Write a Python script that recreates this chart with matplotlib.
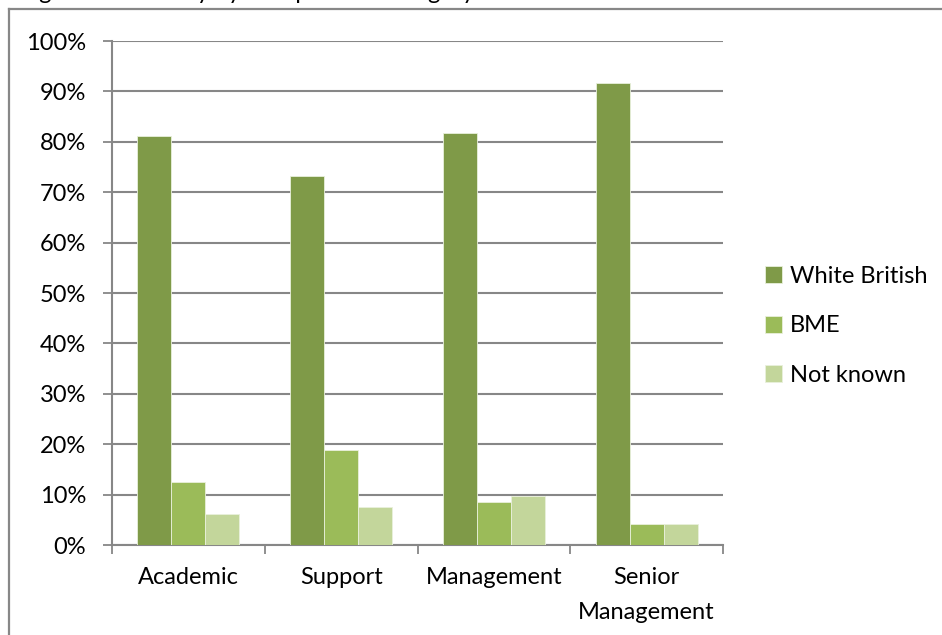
import matplotlib
matplotlib.use("Agg")
import matplotlib.pyplot as plt
from matplotlib.lines import Line2D
from matplotlib.ticker import FixedLocator, PercentFormatter, NullFormatter
import numpy as np

# Staff ethnicity share by job category
categories = ["Academic", "Support", "Management", "Senior\nManagement"]
series_names = ["White British", "BME", "Not known"]
white_british = [81.2, 73.2, 81.7, 91.7]
bme = [12.5, 18.9, 8.5, 4.1]
not_known = [6.2, 7.6, 9.7, 4.1]
y_ticks = [0, 10, 20, 30, 40, 50, 60, 70, 80, 90, 100]

colors = ["#7f9a48", "#9bbb59", "#c3d69b"]
grid_col = "#878787"

plt.rcParams["font.family"] = ["Lato", "DejaVu Sans"]
W, H = 942, 635
fig = plt.figure(figsize=(W / 100, H / 100), dpi=100)

def fx(px):
    return px / W

def fy(py):
    return 1 - py / H

# outer chart frame (runs off the right and bottom edges)
fig.add_artist(Line2D([fx(9), 1.0], [fy(9), fy(9)], color=grid_col, lw=1.6,
                      transform=fig.transFigure))
fig.add_artist(Line2D([fx(9), fx(9)], [fy(9), 0.0], color=grid_col, lw=1.6,
                      transform=fig.transFigure))

# caption sitting above the frame
fig.text(fx(20), fy(-1), "Figure 4: Ethnicity by occupational category",
         fontsize=17, ha="left", va="baseline")

left, right, top, bottom = 112, 723, 41, 545
ax = fig.add_axes([fx(left), fy(bottom), fx(right - left), (bottom - top) / H])

x = np.arange(len(categories))
bw = 1 / 4.5
all_series = [white_british, bme, not_known]
for i, (vals, name, c) in enumerate(zip(all_series, series_names, colors)):
    ax.bar(x + (i - 1) * bw, vals, width=bw, color=c, edgecolor="#e9f0dc",
           linewidth=0.6, label=name, zorder=3)

ax.set_xlim(-0.5, len(categories) - 0.5)
ax.set_ylim(0, 100)
ax.yaxis.set_major_locator(FixedLocator(y_ticks))
ax.yaxis.set_major_formatter(PercentFormatter(decimals=0))
ax.grid(axis="y", color=grid_col, lw=1.5, zorder=0)
ax.set_axisbelow(True)

ax.xaxis.set_major_locator(FixedLocator(np.arange(len(categories) + 1) - 0.5))
ax.xaxis.set_major_formatter(NullFormatter())
ax.xaxis.set_minor_locator(FixedLocator(x))
ax.set_xticklabels(categories, minor=True)

for s in ["top", "right"]:
    ax.spines[s].set_visible(False)
for s in ["left", "bottom"]:
    ax.spines[s].set_color(grid_col)
    ax.spines[s].set_linewidth(1.5)

ax.tick_params(axis="both", which="major", color=grid_col, width=1.3,
               length=6.5, direction="out", labelsize=17)
ax.tick_params(axis="x", which="minor", length=0, pad=16, labelsize=17)
ax.tick_params(axis="y", pad=12)
for lbl in ax.get_xticklabels(minor=True):
    lbl.set_linespacing(1.8)

fig.legend(loc="center left", bbox_to_anchor=(fx(765), fy(326)),
           frameon=False, fontsize=17, handlelength=0.72, handleheight=0.72,
           handletextpad=0.35, labelspacing=1.2, borderaxespad=0, borderpad=0)

fig.savefig("out.png", dpi=100)
